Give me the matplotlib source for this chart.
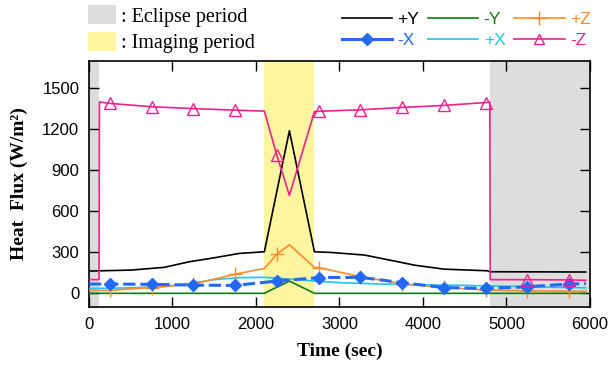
import matplotlib
matplotlib.use("Agg")
import matplotlib.pyplot as plt
from matplotlib.patches import Patch
from matplotlib.lines import Line2D

# ---- data ----
eclipse_periods = [(0, 125), (4800, 6000)]
imaging_period = (2100, 2700)

t_pY = [0, 500, 900, 1200, 1500, 1800, 2100, 2400, 2700, 2900, 3300, 3700, 3900, 4250, 4770, 4800, 5400, 5950]
v_pY = [163, 170, 190, 231, 260, 292, 304, 1190, 304, 299, 280, 231, 206, 177, 165, 158, 157, 156]

t_mY = [0, 2100, 2400, 2700, 5950]
v_mY = [0, 0, 90, 0, 0]

t_pZ = [0, 250, 750, 1250, 1750, 2100, 2250, 2400, 2700, 2750, 3250, 3750, 4250, 4750, 5250, 5750, 5950]
v_pZ = [22, 22, 42, 68, 140, 182, 287, 355, 190, 188, 122, 70, 43, 25, 18, 15, 15]
mk_pZ = [1, 2, 3, 4, 6, 9, 10, 11, 12, 13, 14, 15]

t_mX = [0, 250, 750, 1250, 1750, 2250, 2750, 3250, 3750, 4250, 4750, 5250, 5750, 5950]
v_mX = [68, 68, 66, 60, 58, 90, 115, 117, 78, 42, 36, 48, 68, 72]
mk_mX = list(range(1, 13))

t_pX = [0, 500, 900, 1200, 1500, 1800, 2100, 2400, 2700, 3000, 3500, 4000, 4500, 5000, 5500, 5950]
v_pX = [36, 40, 50, 72, 100, 115, 117, 104, 90, 78, 68, 62, 58, 52, 46, 40]

t_mZ = [0, 120, 125, 250, 750, 1250, 1750, 2100, 2250, 2400, 2700, 2750, 3250, 3750, 4250, 4750, 4800, 4805, 5250, 5750, 5950]
v_mZ = [100, 100, 1400, 1390, 1365, 1352, 1340, 1333, 1010, 717, 1330, 1332, 1343, 1360, 1375, 1396, 1400, 100, 100, 98, 95]
mk_mZ = [3, 4, 5, 6, 8, 11, 12, 13, 14, 15, 18, 19]

x_ticks = [0, 1000, 2000, 3000, 4000, 5000, 6000]
y_ticks = [0, 300, 600, 900, 1200, 1500]

c_pY = "black"
c_mY = "#0f7a14"
c_pZ = "#ff8c28"
c_mX = "#2469f5"
c_pX = "#1ec3f0"
c_mZ = "#f0208c"

serif = ["Liberation Serif", "DejaVu Serif"]
sans = ["Liberation Sans", "DejaVu Sans"]

fig = plt.figure(figsize=(6.11, 3.67), dpi=100)
ax = fig.add_axes([89 / 611, 1 - 307 / 367, (590 - 89) / 611, (307 - 61) / 367])

for a, b in eclipse_periods:
    ax.axvspan(a, b, color="#dcdddc", lw=0, zorder=0)
ax.axvspan(*imaging_period, color="#fdf5a0", lw=0, zorder=0)

ax.plot(t_mY, v_mY, color=c_mY, lw=1.2, zorder=3)
ax.plot(t_pX, v_pX, color=c_pX, lw=1.2, zorder=3)
ax.plot(t_pZ, v_pZ, color=c_pZ, lw=1.2, marker="+", ms=10, mew=1.0,
        markevery=mk_pZ, zorder=4)
ax.plot(t_mX, v_mX, color=c_mX, lw=2.2, ls=(0, (4, 1.6)), marker="D", ms=6.5,
        markevery=mk_mX, zorder=4)
ax.plot(t_pY, v_pY, color=c_pY, lw=1.2, zorder=5)
ax.plot(t_mZ, v_mZ, color=c_mZ, lw=1.2, marker="^", ms=8, mfc="none", mew=1.0,
        markevery=mk_mZ, zorder=5)

ax.set_xlim(0, 6000)
ax.set_ylim(-100, 1700)
ax.set_xticks(x_ticks)
ax.set_yticks(y_ticks)
ax.tick_params(direction="in", top=True, right=True, length=7, width=1,
               labelsize=12, pad=7)
for lab in ax.get_xticklabels() + ax.get_yticklabels():
    lab.set_family(sans)
for s in ax.spines.values():
    s.set_linewidth(1.2)

ax.set_xlabel("Time (sec)", fontfamily=serif, fontweight="bold", fontsize=14, labelpad=8)
ax.set_ylabel("Heat  Flux (W/m²)", fontfamily=serif, fontweight="bold", fontsize=14, labelpad=10)

# period legend
h1 = [Patch(facecolor="#dcdddc", edgecolor="none"), Patch(facecolor="#fdf5a0", edgecolor="none")]
leg1 = fig.legend(h1, [": Eclipse period", ": Imaging period"], loc="upper left",
                  bbox_to_anchor=(88 / 611, 1 - 5 / 367), frameon=False,
                  prop={"family": serif, "size": 14.5}, handlelength=1.4,
                  handleheight=1.1, handletextpad=0.25, labelspacing=0.25,
                  borderpad=0, borderaxespad=0)

# series legend (column-major fill -> rows +Y -Y +Z / -X +X -Z)
hs = [Line2D([], [], color=c_pY, lw=1.2),
      Line2D([], [], color=c_mX, lw=2.2, marker="D", ms=6),
      Line2D([], [], color=c_mY, lw=1.2),
      Line2D([], [], color=c_pX, lw=1.2),
      Line2D([], [], color=c_pZ, lw=1.2, marker="+", ms=10),
      Line2D([], [], color=c_mZ, lw=1.2, marker="^", ms=7, mfc="none")]
ls_ = ["+Y", "-X", "-Y", "+X", "+Z", "-Z"]
cs_ = [c_pY, c_mX, c_mY, c_pX, c_pZ, c_mZ]
leg2 = fig.legend(hs, ls_, loc="upper left", ncol=3, numpoints=1,
                  bbox_to_anchor=(342 / 611, 1 - 12 / 367), frameon=False,
                  prop={"family": sans, "size": 12.5}, handlelength=2.9,
                  handletextpad=0.3, columnspacing=0.5, labelspacing=0.35,
                  borderpad=0, borderaxespad=0)
for txt, c in zip(leg2.get_texts(), cs_):
    txt.set_color(c)

fig.savefig("out.png", dpi=100)
